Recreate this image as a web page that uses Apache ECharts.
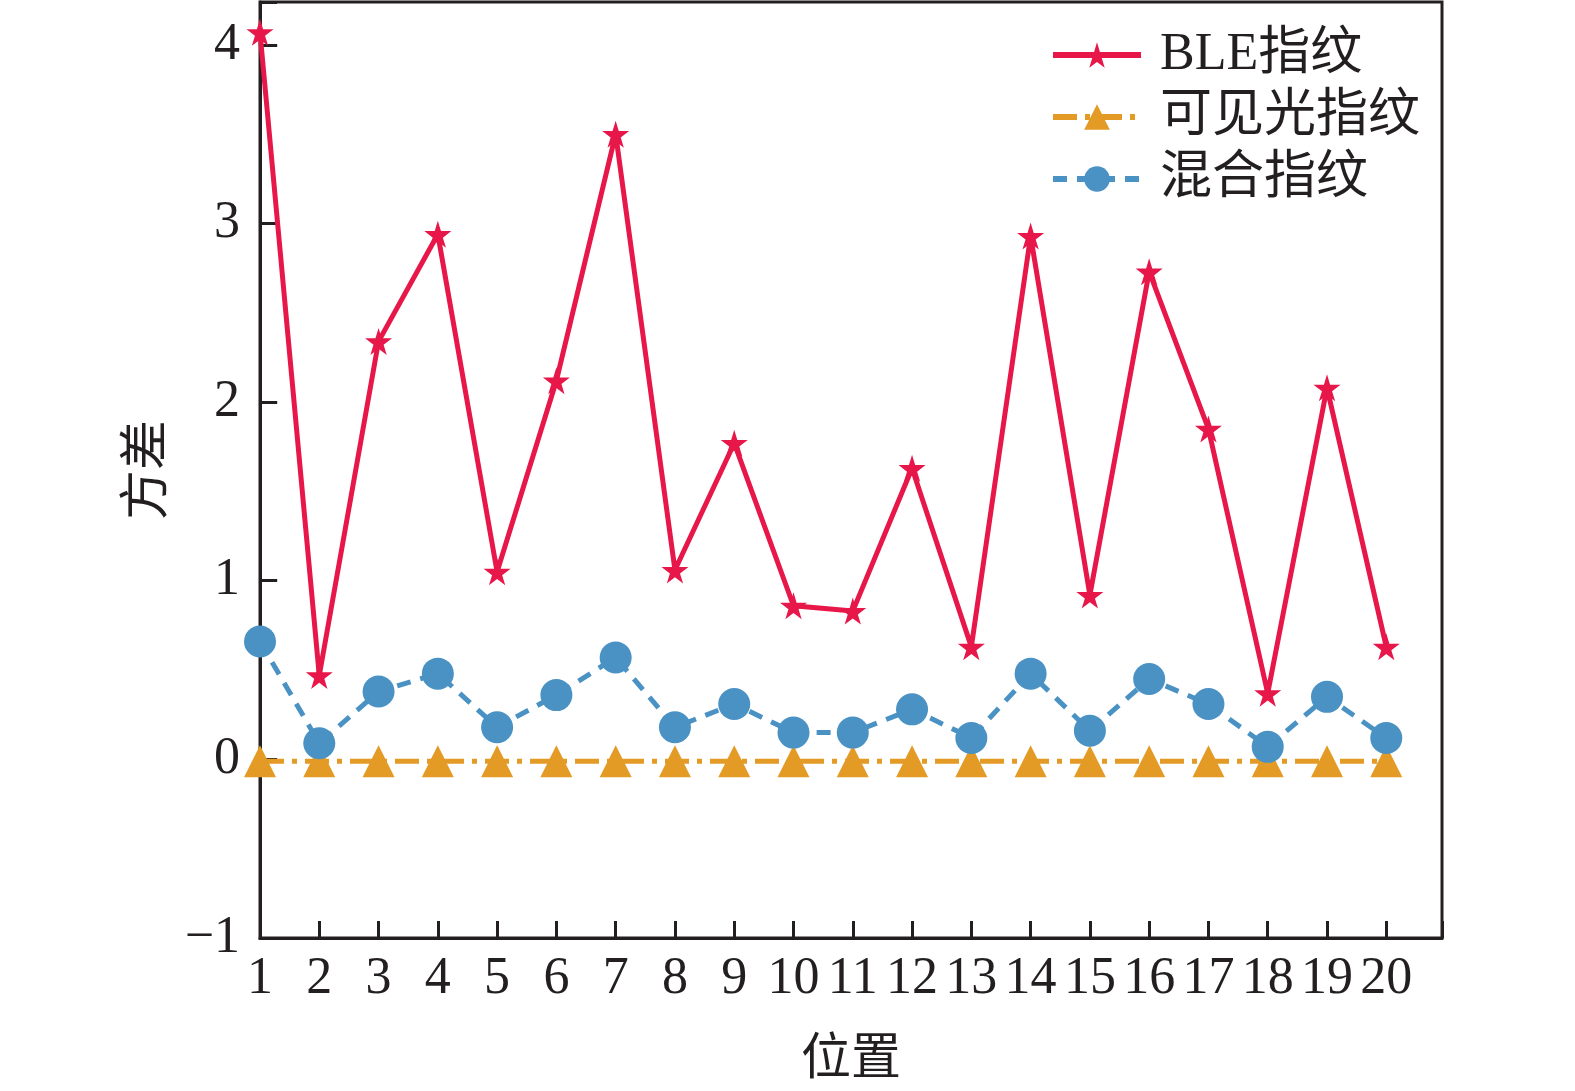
<!DOCTYPE html>
<html><head><meta charset="utf-8">
<script src="https://cdn.jsdelivr.net/npm/echarts@6/dist/echarts.min.js"></script>
<style>html,body{margin:0;padding:0;background:#fff}#c{width:1575px;height:1091px}</style>
</head><body><div id="c"></div>
<script>
const positions = [1,2,3,4,5,6,7,8,9,10,11,12,13,14,15,16,17,18,19,20];
const bleValues = [4.07,0.47,2.34,2.94,1.05,2.12,3.50,1.06,1.77,0.86,0.83,1.63,0.63,2.93,0.92,2.73,1.85,0.37,2.08,0.63];
const visibleValues = [-0.01,-0.01,-0.01,-0.01,-0.01,-0.01,-0.01,-0.01,-0.01,-0.01,-0.01,-0.01,-0.01,-0.01,-0.01,-0.01,-0.01,-0.01,-0.01,-0.01];
const mixedValues = [0.66,0.09,0.38,0.48,0.18,0.36,0.57,0.18,0.31,0.15,0.15,0.28,0.12,0.48,0.16,0.45,0.31,0.07,0.35,0.12];
const seriesNames = ['BLE指纹','可见光指纹','混合指纹'];
const yTickValues = [0,1,2,3,4];

const FONT = "'Liberation Serif','Noto Sans CJK SC',serif";
const AX = '#231f20';
const star = 'path://M50,0 L61,35 L98,35 L68,57 L79,91 L50,70 L21,91 L32,57 L2,35 L39,35 Z';
const pairs = v => positions.map((p,i)=>[p, v[i]]);
const X_MIN = 1, X_MAX = 20.94, TICK_FRAC = 0.29;

const chart = echarts.init(document.getElementById('c'));
chart.setOption({
  animation:false,
  grid:{left:260, right:133, top:2, bottom:152, show:true, borderColor:AX, borderWidth:3, backgroundColor:'transparent'},
  legend:{
    orient:'vertical', left:1045, top:24, itemWidth:88, itemHeight:32, itemGap:10,
    textStyle:{fontFamily:FONT, fontSize:52, color:'#231f20', lineHeight:52, padding:[0,0,0,14]},
    lineStyle:{width:6},
    data:seriesNames
  },
  xAxis:{
    type:'value', min:X_MIN, max:X_MAX, interval:1,
    name:'位置', nameLocation:'middle', nameGap:98,
    nameTextStyle:{fontFamily:FONT, fontSize:50, color:'#231f20'},
    axisLine:{onZero:false, lineStyle:{color:AX, width:3}},
    axisTick:{show:true, inside:true, length:17, lineStyle:{color:AX, width:3}},
    axisLabel:{fontFamily:FONT, fontSize:52, color:'#231f20', margin:15,
      formatter:v => Number.isInteger(v) ? String(v) : ''},
    splitLine:{show:false}
  },
  yAxis:{
    type:'value', min:-1, max:4.24, interval:1, position:'left',
    name:'方差', nameLocation:'middle', nameGap:78,
    nameTextStyle:{fontFamily:FONT, fontSize:50, color:'#231f20'},
    axisLine:{show:true, onZero:false, lineStyle:{color:AX, width:3}},
    axisTick:{show:true, inside:true, length:17, lineStyle:{color:AX, width:3}},
    axisLabel:{fontFamily:FONT, fontSize:52, color:'#231f20', margin:20,
      formatter:v => Number.isInteger(v) ? String(v).replace('-', '−') : ''},
    splitLine:{show:false}
  },
  series:[
    {name:seriesNames[0], type:'line', data:pairs(bleValues), z:5,
      symbol:star, symbolSize:27, itemStyle:{color:'#e8174a'},
      lineStyle:{color:'#e8174a', width:5}},
    {name:seriesNames[1], type:'line', data:pairs(visibleValues), z:3,
      symbol:'triangle', symbolSize:[32,32], itemStyle:{color:'#e39b26'},
      lineStyle:{color:'#e39b26', width:5, type:[24,8,5,8]},
      markLine:{
        silent:true, symbol:'none', animation:false, z:1,
        label:{show:false}, emphasis:{disabled:true},
        lineStyle:{color:AX, width:3, type:'solid'},
        data:yTickValues.map(v => [{coord:[X_MIN, v]}, {coord:[X_MIN + TICK_FRAC, v]}])
      }},
    {name:seriesNames[2], type:'line', data:pairs(mixedValues), z:4,
      symbol:'circle', symbolSize:32, itemStyle:{color:'#4a92c4'},
      lineStyle:{color:'#4a92c4', width:5, type:[14,10]}}
  ]
});
</script></body></html>
